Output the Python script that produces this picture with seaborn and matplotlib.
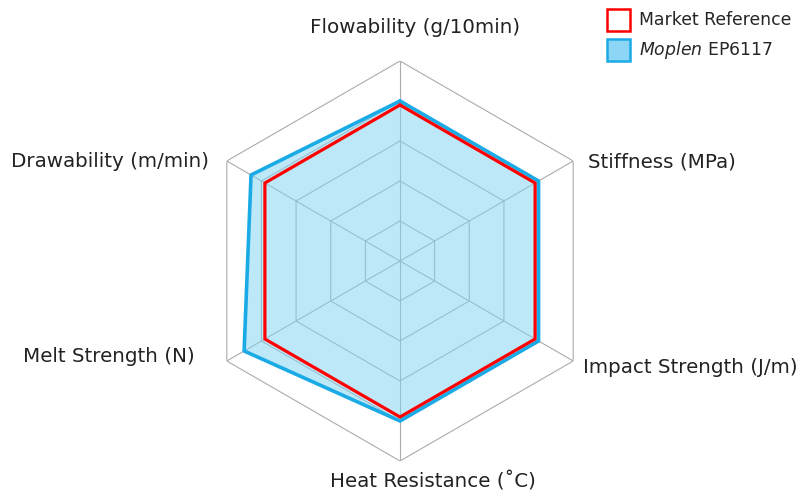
import numpy as np
import matplotlib
matplotlib.use("Agg")
import matplotlib.pyplot as plt
import seaborn as sns
import pandas as pd
from matplotlib.patches import Patch

# ---- data ----
categories = ["Flowability (g/10min)", "Stiffness (MPa)", "Impact Strength (J/m)",
              "Heat Resistance (˚C)", "Melt Strength (N)", "Drawability (m/min)"]
market_reference = [3.9, 3.9, 3.9, 3.9, 3.9, 3.9]
moplen_ep6117 = [4.0, 4.0, 4.0, 4.0, 4.5, 4.3]
ring_levels = [1, 2, 3, 4, 5]
series_labels = ["Market Reference", r"$\mathit{Moplen}$ EP6117"]

sns.set_theme(style="white")
plt.rcParams["font.family"] = ["DejaVu Sans"]
plt.rcParams["mathtext.fontset"] = "custom"
plt.rcParams["mathtext.it"] = "DejaVu Sans:italic"
plt.rcParams["mathtext.rm"] = "DejaVu Sans"

W, H = 803, 490
fig = plt.figure(figsize=(W / 100, H / 100), dpi=100)
cx, cy, R = 400, 261, 200
ax = fig.add_axes([(cx - R) / W, (H - cy - R) / H, 2 * R / W, 2 * R / H], projection="polar")
ax.set_theta_zero_location("N")
ax.set_theta_direction(-1)
ax.set_ylim(0, max(ring_levels))
ax.grid(False)
ax.spines["polar"].set_visible(False)

n = len(categories)
theta = np.arange(n) * 2 * np.pi / n
theta_c = np.append(theta, theta[0] + 2 * np.pi)

grid_color = "#ababab"
for lv in ring_levels:
    ax.plot(theta_c, [lv] * (n + 1), color=grid_color, lw=0.8, zorder=1)
for t in theta:
    ax.plot([t, t], [0, max(ring_levels)], color=grid_color, lw=0.8, zorder=1)

blue_line = "#1aabe6"
blue_fill = "#7dd3f1"
red_line = "#ff0000"

mop_c = np.append(moplen_ep6117, moplen_ep6117[0])
mkt_c = np.append(market_reference, market_reference[0])

ax.fill(theta_c, mop_c, color=blue_fill, alpha=0.5, lw=0, zorder=2)
df_mop = pd.DataFrame({"theta": theta_c, "r": mop_c})
df_mkt = pd.DataFrame({"theta": theta_c, "r": mkt_c})
sns.lineplot(data=df_mop, x="theta", y="r", sort=False, estimator=None, ax=ax,
             color=blue_line, lw=2.6, zorder=3, legend=False)
sns.lineplot(data=df_mkt, x="theta", y="r", sort=False, estimator=None, ax=ax,
             color=red_line, lw=2.3, zorder=4, legend=False)
ax.set_ylim(0, max(ring_levels))
ax.set_xlabel("")
ax.set_ylabel("")
ax.set_xticks([])
ax.set_yticks([])

# label offsets in pixels (dx, dy, ha)
label_pos = [(15.5, 28, "center"), (15, -6, "left"), (10, -12, "left"),
             (33, -26, "center"), (-32, -1, "right"), (-18, -6, "right")]
for t, cat, (dx, dy, ha) in zip(theta, categories, label_pos):
    ax.annotate(cat, xy=(t, max(ring_levels)), xytext=(dx, dy),
                textcoords="offset pixels", ha=ha, va="baseline",
                fontsize=14.3, color="#222222", annotation_clip=False)

fs_leg = 12.4
handles = [Patch(facecolor="white", edgecolor=red_line, lw=1.8),
           Patch(facecolor="#8dd5f4", edgecolor=blue_line, lw=1.8)]
fig.legend(handles, series_labels, loc="upper left",
           bbox_to_anchor=(607 / W, 1 - 9 / H), frameon=False,
           fontsize=fs_leg, handlelength=1.34, handleheight=1.55,
           handletextpad=0.5, labelspacing=0.49, borderpad=0, borderaxespad=0)

fig.savefig("out.png", dpi=100)
